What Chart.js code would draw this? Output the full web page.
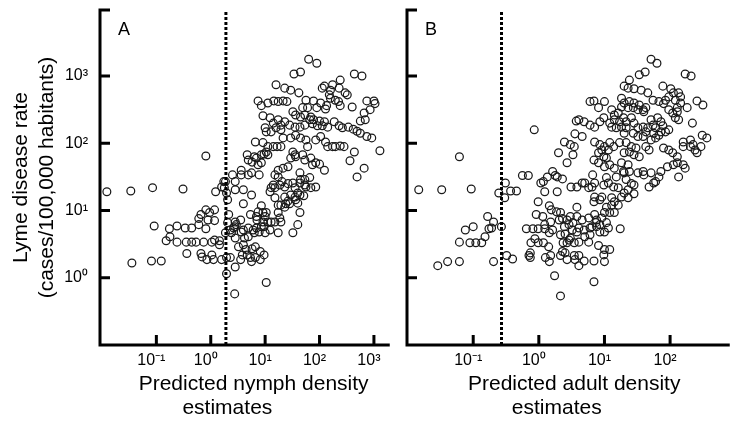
<!DOCTYPE html>
<html>
<head>
<meta charset="utf-8">
<script src="https://cdn.jsdelivr.net/npm/chart.js@4.4.1/dist/chart.umd.min.js"></script>
<style>
html, body { margin: 0; padding: 0; background: #fff; }
#wrap { position: relative; width: 735px; height: 429px; overflow: hidden; }
#chartA { position: absolute; left: 0; top: 0; }
#chartB { position: absolute; left: 395px; top: 0; }
</style>
</head>
<body>
<div id="wrap">
<canvas id="chartA" width="395" height="429" style="width:395px;height:429px"></canvas>
<canvas id="chartB" width="340" height="429" style="width:340px;height:429px"></canvas>
</div>
<script>
// tick values
const nymphTicks = [0.1, 1, 10, 100, 1000];
const adultTicks = [0.1, 1, 10, 100];
const rateTicks = [1, 10, 100, 1000];

// dotted threshold lines
const nymphCut = 1.9;
const adultCut = 0.27;

// points, as [log10 density, log10 rate]
const nymphPoints = [
[-1.91,1.28],[-1.47,1.29],[-1.07,1.34],[-0.51,1.32],[-0.09,1.81],[-1.04,0.77],[-1.45,0.22],[-1.09,0.25],[-0.91,0.25],
[-0.76,0.73],[-0.82,0.55],[-0.75,0.61],[-0.62,0.77],[-0.62,0.53],[-0.47,0.74],[-0.45,0.53],[-0.44,0.36],[-0.35,0.74],[-0.35,0.53],[-0.27,0.53],
[-0.22,0.79],[-0.22,0.88],[-0.18,0.94],[-0.09,0.73],[-0.09,1.01],[-0.13,0.53],[-0.18,0.36],[-0.16,0.31],[-0.07,0.27],[-0.05,0.86],
[-0.02,0.97],[0.07,1.01],[0.07,0.85],[0.02,0.53],[0.02,0.34],[0.05,0.27],[0.07,0.56],[0.09,1.28],
[0.16,0.49],[0.16,0.55],[0.20,0.27],[0.20,1.35],[0.24,1.43],[0.27,1.43],[0.29,1.26],[0.31,1.16],[0.33,0.94],[0.31,0.82],
[0.27,0.67],[0.36,0.71],[0.29,0.30],[0.36,0.30],[0.29,0.06],[0.45,0.16],[0.44,-0.24],[0.40,1.53],[0.45,1.43],[0.56,1.60],
[0.45,1.31],[0.60,1.31],[0.60,1.10],[0.75,1.23],[0.69,1.53],[0.75,1.56],[0.89,1.53],[0.67,1.83],[0.82,2.02],[0.96,2.01],
[0.98,1.84],[0.84,1.78],[0.93,1.71],[0.45,0.83],[0.47,0.79],[0.55,0.86],[0.60,0.71],[0.62,0.59],[0.51,0.46],[0.69,0.61],
[0.73,0.94],[0.87,0.98],[0.93,1.07],[0.80,0.67],[0.89,0.68],[0.98,0.76],[1.00,0.67],[0.85,0.86],[1.00,0.91],[0.67,0.34],
[0.76,0.43],[0.82,0.30],[0.91,0.27],[0.98,0.34],[0.58,0.34],[0.55,0.27],[0.75,0.24],[1.02,-0.07],[0.42,0.74],
[0.38,0.67],[0.56,0.68],[0.45,0.59],[0.60,0.49],[0.65,0.42],[0.82,0.46],[0.91,0.39],[0.73,0.30],[0.25,1.34],
[1.20,2.87],[1.36,2.82],[1.47,2.79],[1.62,2.75],[0.87,2.63],[0.93,2.56],[1.05,2.60],[1.16,2.63],[1.24,2.62],[1.33,2.63],
[1.40,2.62],[0.96,2.41],[1.09,2.38],[1.15,2.30],[1.24,2.35],[1.29,2.27],[1.36,2.32],[1.00,2.23],[1.02,2.17],[1.11,2.17],
[1.20,2.23],[1.29,2.20],[1.33,2.08],[1.05,1.95],[1.15,1.95],[1.22,1.95],[1.29,1.95],[1.02,1.87],[1.05,1.83],[0.80,1.80],
[0.76,1.72],[0.87,1.68],[0.69,1.75],[0.56,1.53],[0.93,1.83],[1.18,1.53],[1.24,1.60],[1.33,1.63],[1.42,1.65],
[1.15,1.38],[1.09,1.28],[1.18,1.34],[1.27,1.38],[1.36,1.35],[1.36,1.20],[1.29,1.08],[1.36,1.05],[0.96,0.97],[1.02,0.97],
[0.84,0.91],[1.24,0.97],[1.27,0.89],[1.29,0.83],[1.11,1.34],[1.42,1.40],[1.51,1.41],[1.64,1.41],[1.73,1.38],[1.55,1.34],
[1.60,1.26],[1.71,1.22],[1.18,1.19],[1.42,1.14],[1.38,1.10],[1.45,1.10],[1.64,0.97],[0.93,0.76],[0.96,0.83],[1.05,0.83],
[1.11,0.83],[1.18,0.83],[1.09,0.71],[1.24,0.67],[1.51,0.67],[0.78,0.71],[0.84,0.74],[0.69,0.74],[0.44,0.76],
[1.80,3.25],[1.95,3.19],[1.53,3.03],[1.65,3.06],[2.64,3.03],[2.78,3.00],[2.38,2.94],[2.09,2.85],[2.05,2.82],[2.24,2.87],
[2.20,2.79],[2.36,2.82],[2.47,2.75],[2.51,2.72],[2.18,2.72],[2.20,2.67],[2.29,2.64],[2.35,2.62],[2.38,2.56],[1.75,2.64],
[1.89,2.63],[2.02,2.60],[2.13,2.56],[2.11,2.51],[1.95,2.53],[1.78,2.53],[1.69,2.53],[2.60,2.54],[2.87,2.63],[3.00,2.63],
[3.02,2.59],[2.93,2.50],[2.82,2.45],[2.75,2.33],[2.84,2.35],[1.51,2.47],[1.56,2.42],[1.65,2.39],[1.73,2.42],[1.84,2.39],
[1.89,2.35],[2.00,2.33],[2.09,2.32],[1.45,2.27],[1.55,2.24],[1.64,2.24],[1.73,2.27],[1.82,2.35],[1.87,2.29],[1.96,2.26],
[2.05,2.26],[2.15,2.24],[2.27,2.32],[2.36,2.26],[2.42,2.23],[2.53,2.24],[2.62,2.21],[2.69,2.18],[2.75,2.15],[2.87,2.10],
[2.96,2.08],[1.47,2.08],[1.56,2.12],[1.65,2.08],[1.75,2.05],[1.78,1.95],[1.93,2.05],[2.02,2.10],[2.11,2.02],[2.15,1.95],
[2.24,1.95],[2.29,1.95],[2.38,1.96],[2.45,1.95],[3.11,1.89],[2.64,1.87],[2.56,1.74],[2.82,1.63],[2.69,1.50],
[1.51,1.87],[1.55,1.83],[1.47,1.78],[1.56,1.80],[1.69,1.83],[1.73,1.75],[1.84,1.78],[1.87,1.68],[1.93,1.71],[2.00,1.69],
[2.09,1.60],[1.24,1.50],[1.31,1.43],[1.64,1.56],[1.65,1.46],[1.73,1.46],[1.82,1.49],[1.75,1.35],[1.84,1.34],[1.93,1.35],
[1.47,1.23],[1.55,1.20],[1.64,1.23],[1.56,1.16],[1.60,1.11],[1.24,1.08],[1.60,0.79]
];

const adultPoints = [
[-1.83,1.31],[-1.48,1.31],[-1.03,1.32],[-1.21,1.80],[-0.78,0.91],[-0.69,0.83],[-0.76,0.73],[-0.72,0.74],[-1.12,0.71],[-1.00,0.76],
[-1.21,0.53],[-1.05,0.52],[-0.96,0.52],[-0.87,0.52],[-0.82,0.61],[-1.54,0.18],[-1.39,0.24],[-1.21,0.24],[-0.69,0.24],[-0.57,0.76],
[-0.61,1.26],[-0.51,1.41],[-0.52,1.19],[-0.43,1.29],[-0.34,1.29],[-0.25,1.52],[-0.16,1.52],[-0.49,0.33],[-0.40,0.28],[-0.07,2.20],
[-0.13,0.30],[-0.15,0.33],[-0.13,0.37],[-0.04,0.94],[-0.01,1.13],[0.03,1.41],[0.07,1.43],[0.09,1.28],[0.13,1.50],[0.21,1.58],
[0.25,1.52],[0.36,1.47],[0.16,1.07],[0.19,1.01],[0.27,0.98],[0.33,0.97],[0.28,1.28],[0.49,1.35],[0.58,1.05],[0.66,1.41],
[0.76,1.34],[0.81,1.35],[-0.19,0.73],[-0.09,0.73],[-0.01,0.73],[0.09,0.73],[-0.01,0.52],[0.07,0.52],[0.15,0.46],[0.16,0.67],
[0.21,0.71],[0.31,0.86],[0.36,0.88],[0.48,0.91],[0.58,0.91],[0.66,0.86],[0.76,0.89],[0.85,0.94],[0.87,0.82],[0.33,0.64],
[0.40,0.65],[0.48,0.59],[0.43,0.52],[0.54,0.52],[0.61,0.53],[0.70,0.61],[0.78,0.64],[0.39,0.76],[0.46,0.79],[0.51,0.71],
[0.61,0.74],[0.69,0.71],[0.78,0.74],[0.10,0.30],[0.18,0.33],[0.33,0.33],[0.43,0.27],[0.54,0.33],[0.61,0.33],[0.61,0.18],
[0.69,0.25],[0.84,0.25],[0.24,0.03],[0.33,-0.27],[0.84,-0.06],[-0.06,0.58],[-0.12,0.52],[0.16,0.24],[0.40,0.37],[0.46,0.56],
[0.37,0.52],[0.52,0.82],
[0.84,1.13],[0.93,1.16],[0.96,1.20],[1.11,1.19],[1.15,1.13],[1.21,1.08],[1.26,1.20],[1.36,1.19],[1.45,1.25],[1.00,0.97],
[1.08,0.97],[1.15,0.97],[0.88,0.86],[0.96,0.89],[1.03,0.82],[1.06,0.74],[1.00,0.68],[0.93,0.79],[0.88,0.76],[0.81,0.76],
[0.58,0.68],[0.76,0.53],[0.93,0.68],[1.24,0.73],[0.91,0.48],[1.00,0.42],[1.08,0.42],[0.99,0.34],[0.36,0.39],
[0.55,0.27],[1.00,0.24],
[0.39,2.02],[0.48,1.98],[0.30,1.86],[0.52,1.83],[0.43,1.71],[0.57,2.33],[0.55,2.14],[0.66,2.10],[0.06,0.91],[0.09,0.79],
[0.18,0.83],[0.43,0.86],[0.85,1.20],[1.03,1.05],[1.11,1.08],
[1.71,3.25],[1.80,3.19],[1.53,3.02],[1.62,3.06],[2.23,3.03],[2.32,3.00],[1.30,2.85],[1.38,2.94],[1.45,2.81],[1.56,2.79],
[1.66,2.75],[1.36,2.82],[1.89,2.85],[2.01,2.81],[2.05,2.75],[2.13,2.75],[2.16,2.69],[1.98,2.69],[2.08,2.64],[2.16,2.60],
[2.26,2.53],[2.41,2.63],[2.50,2.57],[1.74,2.64],[1.83,2.62],[1.90,2.59],[1.26,2.67],[1.30,2.60],[1.38,2.62],[1.45,2.60],
[1.26,2.54],[1.36,2.53],[1.44,2.53],[1.51,2.50],[1.59,2.50],[1.63,2.53],[1.53,2.57],[1.60,2.47],[0.78,2.62],[0.84,2.63],
[1.00,2.62],[0.91,2.53],[1.11,2.50],[1.15,2.42],[1.21,2.45],[1.29,2.38],[1.23,2.32],[1.33,2.32],[1.41,2.38],[1.15,2.35],
[1.08,2.30],[1.11,2.24],[1.18,2.23],[1.26,2.24],[1.33,2.23],[1.30,2.15],[0.61,2.35],[0.69,2.32],[0.78,2.27],[0.85,2.24],
[0.93,2.32],[0.99,2.38],[1.45,2.30],[1.51,2.23],[1.59,2.24],[1.66,2.23],[1.74,2.27],[1.78,2.23],[1.86,2.17],[1.93,2.17],
[1.98,2.20],[1.71,2.35],[1.81,2.38],[1.86,2.32],[1.98,2.50],[2.04,2.45],[2.08,2.38],[2.13,2.35],[2.11,2.53],[2.34,2.30],
[2.49,2.12],[2.56,2.08],[1.75,2.15],[1.71,2.05],[1.78,2.08],[1.83,2.12],[1.44,2.15],[1.51,2.10],[1.59,2.10],[1.63,2.17],
[0.85,2.02],[0.93,1.98],[1.00,1.95],[1.08,2.01],[1.14,1.95],[1.06,1.90],[0.96,1.90],[0.91,1.86],[1.23,2.01],[1.33,2.01],
[1.41,1.95],[1.38,1.87],[1.30,1.86],[1.48,1.93],[1.53,1.80],[1.45,1.83],[1.63,1.95],[1.68,1.90],[1.90,1.93],[1.98,1.90],
[2.04,1.86],[2.11,1.80],[2.20,1.95],[2.31,1.95],[2.38,1.90],[2.41,1.86],[2.31,2.05],[2.20,2.02],[2.47,1.95],[2.35,1.98],
[0.54,1.95],[0.84,1.75],[0.91,1.71],[0.99,1.80],[1.03,1.78],[1.00,1.65],[1.08,1.68],[1.15,1.63],[1.26,1.71],[1.29,1.58],
[1.36,1.68],[1.38,1.58],[1.30,1.56],[1.51,1.56],[1.59,1.58],[1.60,1.53],[1.71,1.56],[1.68,1.35],[1.75,1.41],[1.86,1.58],
[1.83,1.50],[1.96,1.65],[2.05,1.68],[2.23,1.63],[2.13,1.50],[2.20,1.68],[2.11,1.71],[0.70,1.41],[0.58,1.35],[1.06,1.41],
[1.14,1.35],[1.21,1.34],[1.36,1.31],[1.45,1.38],[1.30,1.26],[0.82,1.53],[0.85,1.41],[0.99,1.38],[1.03,1.49],[1.18,1.50],
[1.33,1.46],[1.41,1.40],[1.78,1.43],[0.28,1.50],[1.89,2.26],[2.11,2.47],[1.93,2.64]
];

const rateTitle = ['Lyme disease rate', '(cases/100,000 habitants)'];
const FONT = '"Liberation Sans", Arial, sans-serif';
const SUP = {'-': '\u207B', '0': '\u2070', '1': '\u00B9', '2': '\u00B2', '3': '\u00B3'};

function powerLabel(v) {
  const e = Math.round(Math.log10(v));
  return '10' + String(e).split('').map(c => SUP[c]).join('');
}

// axis lines, inward ticks and the panel letter
const framePlugin = {
  id: 'frame',
  afterDraw(chart, args, opts) {
    const {ctx, chartArea: a} = chart;
    const xs = chart.scales.x, ys = chart.scales.y;
    ctx.save();
    ctx.strokeStyle = '#000';
    ctx.lineWidth = 3;
    ctx.beginPath();
    ctx.moveTo(a.left + 10, a.top);
    ctx.lineTo(a.left, a.top);
    ctx.lineTo(a.left, a.bottom);
    ctx.lineTo(a.right, a.bottom);
    xs.ticks.forEach(t => {
      const p = xs.getPixelForValue(t.value);
      ctx.moveTo(p, a.bottom);
      ctx.lineTo(p, a.bottom - 10);
    });
    ys.ticks.forEach(t => {
      const p = ys.getPixelForValue(t.value);
      ctx.moveTo(a.left, p);
      ctx.lineTo(a.left + 10, p);
    });
    ctx.stroke();
    ctx.fillStyle = '#000';
    ctx.font = '18px ' + FONT;
    ctx.fillText(opts.letter, a.left + 18, a.top + 25);
    ctx.restore();
  }
};

function makePanel(id, p) {
  const pts = p.points.map(d => ({x: 10 ** d[0], y: 10 ** d[1]}));
  return new Chart(document.getElementById(id), {
    type: 'scatter',
    data: {
      datasets: [
        {
          type: 'line',
          data: [{x: p.cut, y: 0.1}, {x: p.cut, y: 9600}],
          borderColor: '#000',
          borderWidth: 3,
          borderDash: [3, 2],
          pointRadius: 0,
          fill: false
        },
        {
          data: pts,
          pointRadius: 3.9,
          pointBorderWidth: 1.25,
          pointBorderColor: '#1a1a1a',
          pointBackgroundColor: 'rgba(0,0,0,0)'
        }
      ]
    },
    plugins: [framePlugin],
    options: {
      responsive: false,
      animation: false,
      events: [],
      layout: {padding: {top: 10, right: p.padRight, bottom: 0, left: 0}},
      plugins: {
        legend: {display: false},
        tooltip: {enabled: false},
        frame: {letter: p.letter}
      },
      scales: {
        x: {
          type: 'logarithmic',
          min: p.xMin,
          max: p.xMax,
          afterBuildTicks: s => { s.ticks = p.xTicks.map(v => ({value: v})); },
          afterFit: s => { s.height = 84; s.paddingLeft = 0; s.paddingRight = 0; },
          grid: {display: false, drawTicks: false},
          border: {display: false},
          ticks: {
            callback: v => powerLabel(v),
            font: {family: FONT, size: 16},
            color: '#000',
            padding: 6,
            labelOffset: -5,
            maxRotation: 0,
            autoSkip: false
          },
          title: {
            display: true,
            text: p.xTitle,
            color: '#000',
            font: {family: FONT, size: 21, lineHeight: 1.15},
            padding: {top: 0, bottom: 9}
          }
        },
        y: {
          type: 'logarithmic',
          min: 0.1,
          max: 9600,
          afterBuildTicks: s => { s.ticks = rateTicks.map(v => ({value: v})); },
          afterFit: s => { s.width = p.yWidth; s.paddingTop = 0; s.paddingBottom = 0; },
          grid: {display: false, drawTicks: false},
          border: {display: false},
          ticks: {
            display: p.yLabels,
            callback: v => powerLabel(v),
            font: {family: FONT, size: 16},
            color: '#000',
            padding: 12
          },
          title: {
            display: p.yLabels,
            text: rateTitle,
            color: '#000',
            font: {family: FONT, size: 21, lineHeight: 1.2},
            padding: {top: 9, bottom: 0}
          }
        }
      }
    }
  });
}

makePanel('chartA', {
  points: nymphPoints, cut: nymphCut, letter: 'A',
  xMin: 0.0092, xMax: 1954, xTicks: nymphTicks,
  xTitle: ['   Predicted nymph density', 'estimates      '],
  yWidth: 100, yLabels: true, padRight: 2
});

makePanel('chartB', {
  points: adultPoints, cut: adultCut, letter: 'B',
  xMin: 0.0098, xMax: 811, xTicks: adultTicks,
  xTitle: ['  Predicted adult density', 'estimates    '],
  yWidth: 12, yLabels: false, padRight: 0
});
</script>
</body>
</html>
